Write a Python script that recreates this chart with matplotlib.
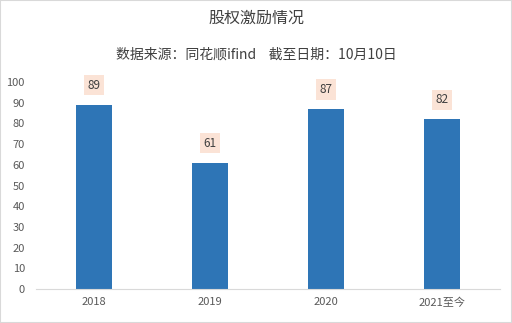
import matplotlib
matplotlib.use("Agg")
import matplotlib.pyplot as plt
from matplotlib.patches import Rectangle

plt.rcParams['font.family'] = ['Noto Sans CJK SC', 'DejaVu Sans']

categories = ["2018", "2019", "2020", "2021至今"]
values = [89, 61, 87, 82]
yticks = [0, 10, 20, 30, 40, 50, 60, 70, 80, 90, 100]
title = "股权激励情况"
subtitle = "数据来源：同花顺ifind    截至日期：10月10日"

fig = plt.figure(figsize=(5.12, 3.23), dpi=100)
fig.patches.append(Rectangle((0, 0), 1, 1, transform=fig.transFigure,
                             fill=False, edgecolor="#D9D9D9", linewidth=1.5))
ax = fig.add_axes([0.0703, 0.1053, 0.9063, 0.6407])
x = range(len(categories))
bars = ax.bar(x, values, width=0.31, color="#2E75B6", zorder=2)
ax.set_xlim(-0.5, len(categories) - 0.5)
ax.set_ylim(0, 100)
ax.set_yticks(yticks)
ax.set_xticks(list(x))
ax.set_xticklabels(categories)
for s in ["top", "right", "left"]:
    ax.spines[s].set_visible(False)
ax.spines["bottom"].set_color("#D9D9D9")
ax.tick_params(axis="both", length=0, labelsize=8, colors="#595959", pad=6)
ax.tick_params(axis="y", pad=8)

for xi, v in zip(x, values):
    ax.annotate(str(v), (xi, v), xytext=(0, 14), textcoords="offset points",
                ha="center", va="center", fontsize=8.5, color="#404040",
                bbox=dict(boxstyle="square,pad=0.3", facecolor="#FBE3D6", edgecolor="none"))

fig.text(0.5, 1 - 18 / 323, title, ha="center", va="center", fontsize=11.5, color="#404040")
fig.text(0.5, 1 - 55 / 323, subtitle, ha="center", va="center", fontsize=10, color="#404040")

fig.savefig("out.png", dpi=100)
